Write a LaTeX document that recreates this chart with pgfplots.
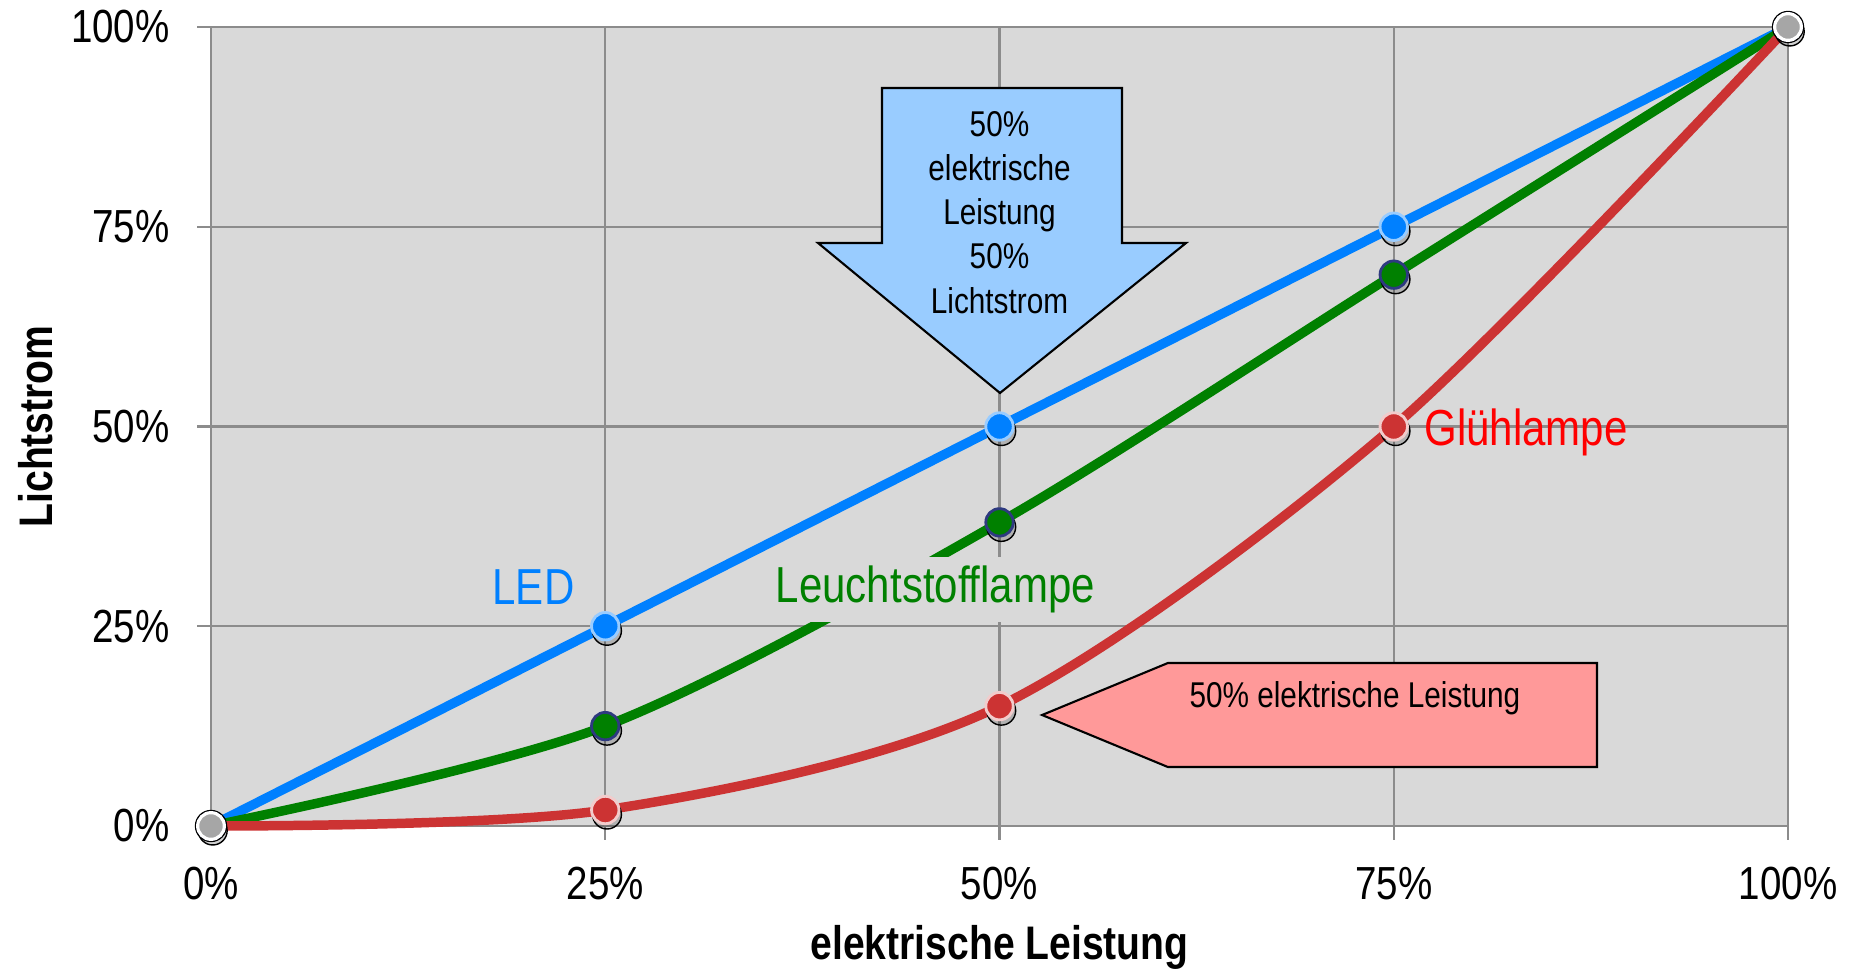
\documentclass[border=0pt]{standalone}
\usepackage{fontspec}
\setmainfont{Liberation Sans}[FakeStretch=0.83]
\usepackage{pgfplots}
\pgfplotsset{compat=1.18}
\definecolor{bgc}{HTML}{D9D9D9}
\definecolor{gridc}{HTML}{8C8C8C}
\definecolor{ledc}{HTML}{0080FF}
\definecolor{tubec}{HTML}{008000}
\definecolor{redc}{HTML}{CC3333}
\definecolor{redtext}{HTML}{FF0000}
\definecolor{bluearrow}{HTML}{99CCFF}
\definecolor{redarrow}{HTML}{FF9999}
\definecolor{navyc}{HTML}{2E3A80}
\definecolor{endc}{HTML}{A6A6A6}
\begin{document}
\begin{tikzpicture}
\useasboundingbox (-2.11cm,-1.47cm) rectangle (16.48cm,8.26cm);
\begin{axis}[
  scale only axis, width=15.77cm, height=7.99cm,
  xmin=0, xmax=100, ymin=0, ymax=100,
  xtick={0,25,50,75,100}, ytick={0,25,50,75,100},
  xticklabels={0\%,25\%,50\%,75\%,100\%},
  yticklabels={0\%,25\%,50\%,75\%,100\%},
  /pgf/number format/assume math mode=true,
  axis background/.style={fill=bgc},
  grid=major, grid style={gridc, line width=0.6pt},
  axis line style={gridc, line width=0.6pt},
  tick style={gridc, line width=0.6pt},
  tick align=outside, major tick length=1.4mm,
  xtick pos=left, ytick pos=left,
  ticklabel style={font=\fontsize{13.2}{13}\selectfont},
  xticklabel style={yshift=-1.5mm},
  yticklabel style={xshift=-1.5mm},
  xlabel={elektrische Leistung}, ylabel={Lichtstrom},
  label style={font=\bfseries\fontsize{13.4}{14}\selectfont},
  xlabel style={at={(axis description cs:0.5,-0.1665)}, anchor=base},
  ylabel style={at={(axis description cs:-0.111,0.5)}, anchor=center},
  clip=false,
]
% arrows
\draw[black, line width=0.6pt, fill=bluearrow] (axis cs:42.55,92.37) -- (axis cs:57.77,92.37) -- (axis cs:57.77,72.97) -- (axis cs:61.83,72.97) -- (axis cs:50.03,54.19) -- (axis cs:38.49,72.97) -- (axis cs:42.55,72.97) -- cycle;
\node[align=center, font=\fontsize{10.2}{12.6}\selectfont] at (axis cs:50,76.8) {50\%\\elektrische\\Leistung\\50\%\\Lichtstrom};
\draw[black, line width=0.6pt, fill=redarrow] (axis cs:87.89,20.40) -- (axis cs:60.68,20.40) -- (axis cs:52.70,13.89) -- (axis cs:60.68,7.38) -- (axis cs:87.89,7.38) -- cycle;
\node[font=\fontsize{10.2}{12}\selectfont] at (axis cs:72.54,16.0) {50\% elektrische Leistung};
% lines
\addplot[ledc, line width=2.7pt] coordinates {(0,0)(25,25)(50,50)(75,75)(100,100)};
\addplot[tubec, line width=2.7pt, smooth] coordinates {(0,0)(25,12.5)(50,38)(75,69)(100,100)};
\addplot[redc, line width=2.7pt, smooth] coordinates {(0,0)(25,2)(50,15)(75,50)(100,100)};
% shadows
\addplot[only marks, mark=*, mark size=4.1pt, mark options={fill=black, draw=none, fill opacity=0.18, xshift=0.5pt, yshift=-1.3pt}] coordinates {(0,0)(100,100)(25,25)(50,50)(75,75)(25,12.5)(50,38)(75,69)(25,2)(50,15)(75,50)};
% marks
\addplot[only marks, mark=*, mark size=3.9pt, mark options={fill=ledc, draw=ledc!40, line width=0.8pt}] coordinates {(25,25)(50,50)(75,75)};
\addplot[only marks, mark=*, mark size=3.9pt, mark options={fill=tubec, draw=navyc, line width=0.8pt}] coordinates {(25,12.5)(50,38)(75,69)};
\addplot[only marks, mark=*, mark size=3.9pt, mark options={fill=redc, draw=redc!25, line width=0.8pt}] coordinates {(25,2)(50,15)(75,50)};
\addplot[only marks, mark=*, mark size=4.4pt, mark options={fill=navyc, draw=none}] coordinates {(0,0)(100,100)};
\addplot[only marks, mark=*, mark size=3.8pt, mark options={fill=endc, draw=white, line width=0.9pt}] coordinates {(0,0)(100,100)};
% labels
\node[text=ledc, font=\fontsize{14.4}{15}\selectfont] at (axis cs:20.45,29.9) {LED};
\node[fill=bgc, text=tubec, font=\fontsize{14.4}{15}\selectfont, inner sep=2.5pt] at (axis cs:45.94,29.6) {Leuchtstofflampe};
\node[text=redtext, font=\fontsize{14.4}{15}\selectfont, anchor=west, inner sep=0pt] at (axis cs:76.9,49.2) {Glühlampe};
\end{axis}
\end{tikzpicture}
\end{document}
